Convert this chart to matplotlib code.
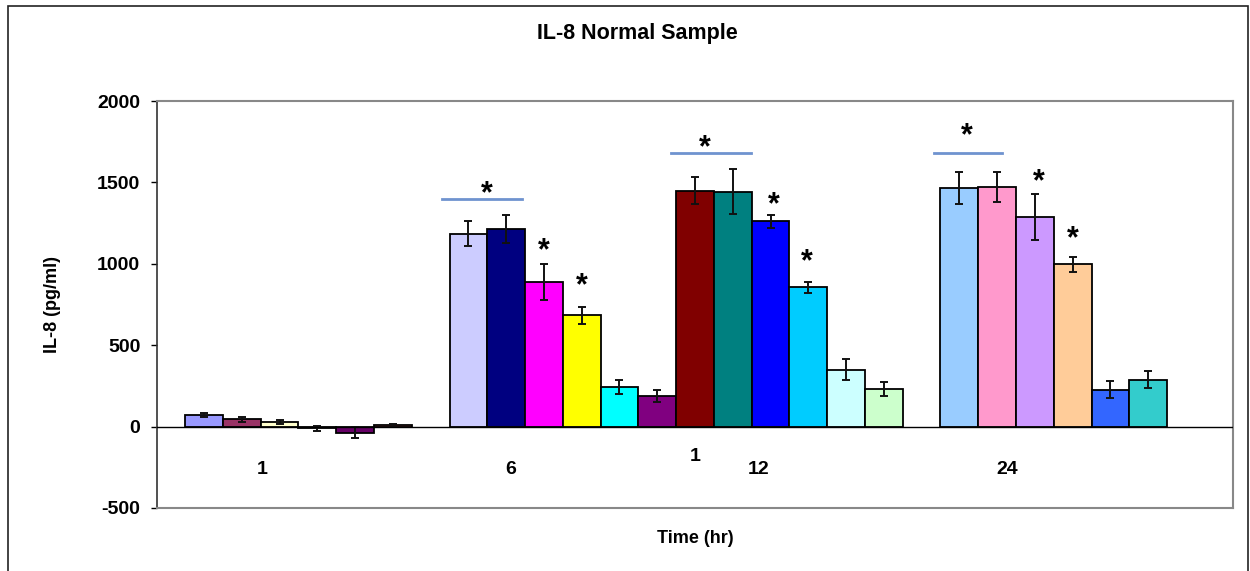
import matplotlib
matplotlib.use("Agg")
from matplotlib import pyplot as plt
from matplotlib.patches import Rectangle

plt.rcParams['font.family'] = ['Liberation Sans', 'DejaVu Sans']
plt.rcParams['font.weight'] = 'bold'

# hodnoty po skupinach (cas 1, 6, 12, 24 hod)
cas_popisky = ["1", "6", "12", "24"]
hodnoty_1 = [72, 45, 28, -10, -37, 8]
chyby_1 = [14, 14, 12, 15, 35, 8]
hodnoty_6 = [1185, 1213, 887, 683, 243, 190]
chyby_6 = [77, 87, 110, 54, 41, 36]
hodnoty_12 = [1450, 1444, 1260, 855, 350, 233]
chyby_12 = [85, 141, 39, 36, 65, 42]
hodnoty_24 = [1466, 1472, 1286, 996, 227, 288]
chyby_24 = [100, 90, 140, 48, 54, 53]

barvy_1 = ["#9999FF", "#993366", "#FFFFCC", "#CCFFFF", "#660066", "#FF8080"]
barvy_6 = ["#CCCCFF", "#000080", "#FF00FF", "#FFFF00", "#00FFFF", "#800080"]
barvy_12 = ["#800000", "#008080", "#0000FF", "#00CCFF", "#CCFFFF", "#CCFFCC"]
barvy_24 = ["#99CCFF", "#FF99CC", "#CC99FF", "#FFCC99", "#3366FF", "#33CCCC"]

y_ticky = [-500, 0, 500, 1000, 1500, 2000]

# serie v excelu jdou za sebou, 7. a 20. serie je prazdna
zacatky = [0, 7, 13, 20]

# hvezdicky: (x, y) a cary nad dvojici sloupcu
hvezdy_x = [8.0, 9.5, 10.5, 13.75, 15.6, 16.45, 20.7, 22.6, 23.5]
hvezdy_y = [1430, 1080, 865, 1708, 1362, 1008, 1782, 1503, 1150]
cary_x1 = [6.8, 12.86, 19.83]
cary_x2 = [8.92, 14.98, 21.63]
cary_y = [1399, 1679, 1679]

fig = plt.figure(figsize=(12.5, 5.71), dpi=100)
ax = fig.add_axes([157 / 1250, 63 / 571, 1076 / 1250, 407 / 571])

skupiny = [(hodnoty_1, chyby_1, barvy_1), (hodnoty_6, chyby_6, barvy_6),
           (hodnoty_12, chyby_12, barvy_12), (hodnoty_24, chyby_24, barvy_24)]
for zac, (h, e, b) in zip(zacatky, skupiny):
    x = [zac + i + 0.5 for i in range(len(h))]
    ax.bar(x, h, width=1.0, color=b, edgecolor="black", linewidth=1.3, zorder=2)
    ax.errorbar(x, h, yerr=e, fmt="none", ecolor="#111111", elinewidth=1.4,
                capsize=3, capthick=1.4, zorder=3)

for x1, x2, y in zip(cary_x1, cary_x2, cary_y):
    ax.plot([x1, x2], [y, y], color="#6F93CF", linewidth=2, zorder=3)
for x, y in zip(hvezdy_x, hvezdy_y):
    ax.text(x, y, "*", ha="center", va="center", fontsize=22, fontweight="bold")

ax.axhline(0, color="black", linewidth=1, zorder=4)

ax.set_xlim(-0.745, 27.745)
ax.set_ylim(-500, 2000)
ax.set_yticks(y_ticky)
ax.set_yticklabels([str(t) for t in y_ticky])
ax.tick_params(axis="y", direction="out", length=4, width=1, pad=8, labelsize=14)
ax.set_xticks([])
for s in ["top", "right", "bottom"]:
    ax.spines[s].set_color("#888888")
    ax.spines[s].set_linewidth(1.5)
ax.spines["left"].set_color("#333333")
ax.spines["left"].set_linewidth(1.2)

# popisky casu, excel je ma jako textova pole
popisky_x = [2.03, 8.63, 15.17, 21.76]
for x, t in zip(popisky_x, cas_popisky):
    ax.text(x, -262, t, ha="center", va="center", fontsize=14, fontweight="bold")
ax.text(13.5, -181, "1", ha="center", va="center", fontsize=14, fontweight="bold")

ax.set_xlabel("Time (hr)", fontsize=13, fontweight="bold", labelpad=16)
ax.set_ylabel("IL-8 (pg/ml)", fontsize=13, fontweight="bold", labelpad=26)
fig.text(637 / 1250, 1 - 33 / 571, "IL-8 Normal Sample", ha="center", va="center",
         fontsize=15.5, fontweight="bold")

fig.patches.append(Rectangle((8 / 1250, -0.05), 1240 / 1250, 1 - 6 / 571 + 0.05,
                             transform=fig.transFigure, fill=False,
                             edgecolor="#222222", linewidth=1.2))

plt.savefig("out.png", dpi=100)
